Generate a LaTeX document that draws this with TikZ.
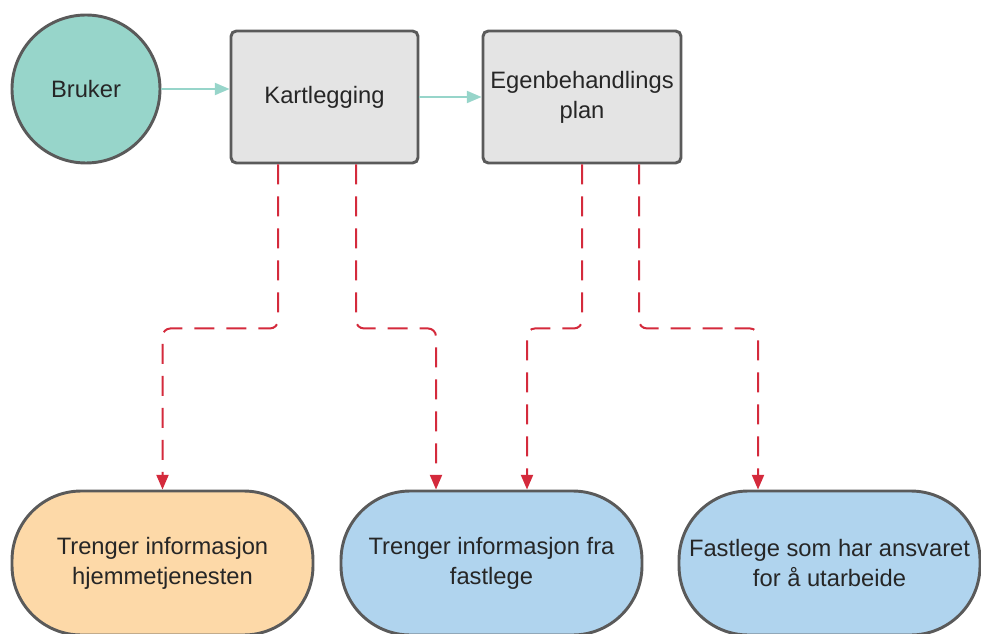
\documentclass[tikz,border=0pt]{standalone}
\usepackage{fontspec}
\setmainfont{Liberation Sans}
\usetikzlibrary{positioning}
\usetikzlibrary{arrows.meta}
\usetikzlibrary{calc}

\definecolor{tealfill}{HTML}{97D5CA}
\definecolor{grayfill}{HTML}{E4E4E4}
\definecolor{orangefill}{HTML}{FDD9A8}
\definecolor{bluefill}{HTML}{B0D4EE}
\definecolor{edgegray}{HTML}{5A5A5A}
\definecolor{dashred}{HTML}{D42A3C}

\tikzset{
  base/.style={draw=edgegray, line width=2.2pt, font=\fontsize{17.8}{22.5}\selectfont, align=center, inner sep=2pt, text=black!85},
  userbox/.style={base, circle, fill=tealfill, minimum size=111pt},
  stepbox/.style={base, rectangle, rounded corners=4pt, fill=grayfill, minimum height=99pt},
  endbox/.style={base, rectangle, rounded corners=52pt, minimum width=225.75pt, minimum height=108pt},
  flow/.style={draw=tealfill, line width=1.5pt, -{Triangle[length=11pt,width=9pt]}},
  need/.style={draw=dashred, line width=1.5pt, dash pattern=on 15pt off 9pt, rounded corners=6pt, -{Triangle[length=11pt,width=9pt]}},
}

\begin{document}
\begin{tikzpicture}[x=0.75pt,y=-0.75pt]
\useasboundingbox (0,0) rectangle (981,634);

% top row
\node[userbox] (bruker) at (86,89) {Bruker};
\node[stepbox, minimum width=140.25pt] (kart) at (324.5,97) {Kartlegging};
\node[stepbox, minimum width=148.5pt] (egen) at (582,97) {Egenbehandlings\\plan};

% bottom row
\node[endbox, fill=orangefill] (hjem) at (162.5,563) {Trenger informasjon\\hjemmetjenesten};
\node[endbox, fill=bluefill] (fast) at (491.5,563) {Trenger informasjon fra\\fastlege};
\node[endbox, fill=bluefill] (ansvar) at (829.5,563) {Fastlege som har ansvaret\\for å utarbeide};

\draw[flow] (bruker.east) -- (bruker.east -| kart.west);
\draw[flow] (kart.east) -- (egen.west);

\draw[need] ($(kart.south)+(-46.5,0)$) -- ++(0,164) -| (hjem.north);
\draw[need] ($(kart.south)+(31.5,0)$) -- ++(0,164) -| ($(fast.north)+(-55.5,0)$);
\draw[need] (egen.south) -- ++(0,164) -| ($(fast.north)+(35.5,0)$);
\draw[need] ($(egen.south)+(57,0)$) -- ++(0,164) -| ($(ansvar.north)+(-71.5,0)$);
\end{tikzpicture}
\end{document}
